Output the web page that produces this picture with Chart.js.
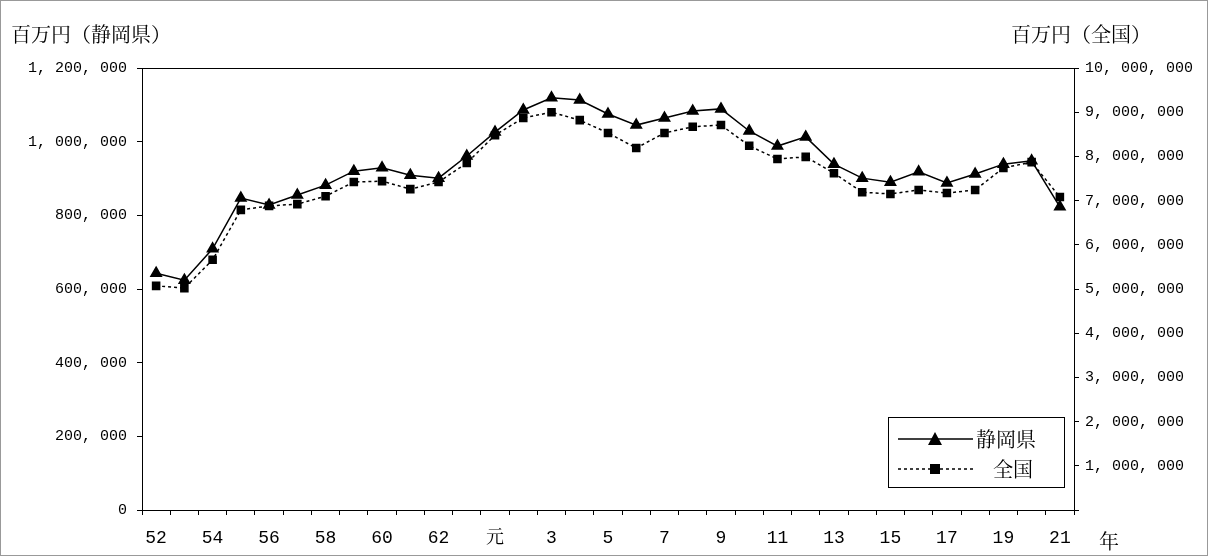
<!DOCTYPE html>
<html><head><meta charset="utf-8">
<script src="https://cdn.jsdelivr.net/npm/chart.js@4"></script>
<style>
body{margin:0;background:#fff}
#wrap{position:relative;width:1208px;height:556px;box-sizing:border-box;border:1px solid #999}
canvas{position:absolute;left:0;top:0}
.t{position:absolute;font-family:"Noto Serif CJK JP","Noto Sans CJK JP",serif;font-size:20px;color:#000}
</style></head><body>
<div id="wrap">
<canvas id="c" width="1208" height="556"></canvas>
<div class="t" style="left:10px;top:18px">百万円（静岡県）</div>
<div class="t" style="left:1010px;top:18px">百万円（全国）</div>
<div class="t" style="left:1098px;top:525px">年</div>
</div>
<script>
// データ
const years = ["52","53","54","55","56","57","58","59","60","61","62","63","元","2","3","4","5","6","7","8","9","10","11","12","13","14","15","16","17","18","19","20","21"];
const shizuoka = [643000,624000,709000,847000,828000,855000,882000,920000,929000,909000,901000,961000,1026000,1086000,1119000,1113000,1075000,1045000,1064000,1083000,1089000,1029000,988000,1013000,939000,901000,890000,918000,888000,912000,939000,948000,823000];
const zenkoku = [5070000,5020000,5660000,6790000,6880000,6920000,7100000,7420000,7440000,7260000,7420000,7850000,8480000,8870000,9000000,8820000,8530000,8190000,8530000,8670000,8710000,8240000,7940000,7990000,7620000,7190000,7150000,7240000,7170000,7240000,7740000,7870000,7080000];

const tickFont = {family: '"Liberation Mono","DejaVu Sans Mono", monospace', size: 15};
const fmt = v => v.toLocaleString('en-US').replace(/,/g, ', ');

// 枠と凡例
const boxPlugin = {
  id: 'box',
  afterDraw(chart) {
    const {ctx, chartArea: a} = chart;
    ctx.save();
    ctx.strokeStyle = '#000'; ctx.lineWidth = 1;
    ctx.strokeRect(a.left + 0.5, a.top + 0.5, a.right - a.left, a.bottom - a.top);
    const lx = 887, ly = 416, lw = 176, lh = 70;
    ctx.fillStyle = '#fff'; ctx.fillRect(lx, ly, lw, lh);
    ctx.strokeRect(lx + 0.5, ly + 0.5, lw, lh);
    ctx.font = '20px "Noto Serif CJK JP","Noto Sans CJK JP",serif';
    ctx.textBaseline = 'middle';
    ctx.lineWidth = 1.5;
    ctx.beginPath(); ctx.moveTo(lx + 10, ly + 22); ctx.lineTo(lx + 85, ly + 22); ctx.stroke();
    ctx.fillStyle = '#000';
    ctx.beginPath(); ctx.moveTo(lx + 47, ly + 15); ctx.lineTo(lx + 54, ly + 28); ctx.lineTo(lx + 40, ly + 28); ctx.fill();
    ctx.fillText('静岡県', lx + 88, ly + 22);
    ctx.setLineDash([3, 3]);
    ctx.beginPath(); ctx.moveTo(lx + 10, ly + 52); ctx.lineTo(lx + 85, ly + 52); ctx.stroke();
    ctx.setLineDash([]);
    ctx.fillRect(lx + 42, ly + 47, 10, 10);
    ctx.fillText('全国', lx + 105, ly + 52);
    ctx.restore();
  }
};

new Chart(document.getElementById('c'), {
  type: 'line',
  data: {
    labels: years,
    datasets: [
      {label: '静岡県', data: shizuoka, yAxisID: 'y', borderColor: '#000', backgroundColor: '#000', borderWidth: 1.5, pointStyle: 'triangle', pointRadius: 6, tension: 0},
      {label: '全国', data: zenkoku, yAxisID: 'y2', borderColor: '#000', backgroundColor: '#000', borderWidth: 1.5, borderDash: [3, 3], pointStyle: 'rect', pointRadius: 5, tension: 0}
    ]
  },
  options: {
    responsive: false, animation: false,
    layout: {padding: {top: 67, left: 0, right: 0, bottom: 0}},
    plugins: {legend: {display: false}, tooltip: {enabled: false}},
    scales: {
      x: {
        offset: true,
        grid: {display: true, drawOnChartArea: false, tickLength: 5, color: '#000', offset: true},
        border: {color: '#000'},
        ticks: {autoSkip: false, maxRotation: 0, padding: 12, color: '#000', font: {family: '"Liberation Mono","Noto Serif CJK JP",serif', size: 18},
          callback: (v, i) => i % 2 === 0 ? years[i] : ''},
        afterFit: s => { s.height = 47; }
      },
      y: {
        position: 'left', min: 0, max: 1200000,
        ticks: {stepSize: 200000, color: '#000', font: tickFont, padding: 10, callback: v => fmt(v)},
        grid: {display: true, drawOnChartArea: false, tickLength: 5, color: '#000'},
        border: {color: '#000'},
        afterFit: s => { s.width = 141; }
      },
      y2: {
        position: 'right', min: 0, max: 10000000,
        ticks: {stepSize: 1000000, color: '#000', font: tickFont, padding: 6, callback: v => v === 0 ? '' : fmt(v)},
        grid: {display: true, drawOnChartArea: false, tickLength: 5, color: '#000'},
        border: {color: '#000'},
        afterFit: s => { s.width = 135; }
      }
    }
  },
  plugins: [boxPlugin]
});
</script>
</body></html>
